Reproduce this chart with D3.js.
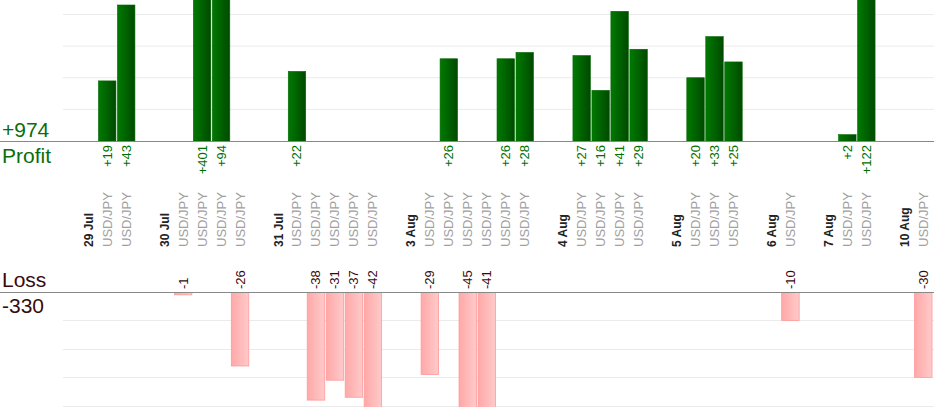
<!DOCTYPE html>
<html><head><meta charset="utf-8">
<script src="https://cdn.jsdelivr.net/npm/d3@7"></script>
<style>body{margin:0;background:#fff}svg{display:block;font-family:Arial,"Liberation Sans",sans-serif}</style>
</head><body><div id="chart"></div>
<script>
const width = 934, height = 420;

// one slot per column: a date header or a trade
const slots = ["29 Jul","t","t","","30 Jul","t","t","t","t","","31 Jul","t","t","t","t","t","","3 Aug","t","t","t","t","t","t","","4 Aug","t","t","t","t","","5 Aug","t","t","t","","6 Aug","t","","7 Aug","t","t","","10 Aug","t"];
// profit/loss of each trade, in slot order
const results = [19,43,-1,401,94,-26,22,-38,-31,-37,-42,-29,26,-45,-41,26,28,27,16,41,29,20,33,25,-10,2,122,-30];
const pair = "USD/JPY";
const totalProfit = "+974", totalLoss = "-330";

let k = 0;
const cols = slots.map((s, i) => s === "t" ? {i, trade: true, v: results[k++]} : {i, trade: false, label: s});
const trades = cols.filter(c => c.trade);

const x = d3.scaleBand().domain(d3.range(slots.length)).range([79.5, 932]).paddingInner(0.08);
const yP = d3.scaleLinear().domain([0, 43]).range([141, 5]);
const yL = d3.scaleLinear().domain([0, -42]).range([292, 411.5]);

const svg = d3.select("#chart").append("svg").attr("width", width).attr("height", height);
const defs = svg.append("defs");
const gG = defs.append("linearGradient").attr("id", "gg");
gG.append("stop").attr("offset", "0%").attr("stop-color", "#007a00");
gG.append("stop").attr("offset", "100%").attr("stop-color", "#004a00");
const gR = defs.append("linearGradient").attr("id", "gr");
gR.append("stop").attr("offset", "0%").attr("stop-color", "#ffa8a8");
gR.append("stop").attr("offset", "100%").attr("stop-color", "#ffcaca");
defs.append("clipPath").attr("id", "cp").append("rect").attr("x", 0).attr("y", 0).attr("width", width).attr("height", 141);
defs.append("clipPath").attr("id", "cl").append("rect").attr("x", 0).attr("y", 292).attr("width", width).attr("height", 115);

// grid
svg.append("g").selectAll("line").data([10, 20, 30, 40]).join("line")
  .attr("x1", 63).attr("x2", width).attr("y1", d => yP(d)).attr("y2", d => yP(d))
  .attr("stroke", "#ebebeb");
svg.append("g").selectAll("line").data([-10, -20, -30, -40]).join("line")
  .attr("x1", 63).attr("x2", width).attr("y1", d => Math.round(yL(d)) + 0.5).attr("y2", d => Math.round(yL(d)) + 0.5)
  .attr("stroke", "#ebebeb");

// bars
svg.append("g").attr("clip-path", "url(#cp)").selectAll("rect").data(trades.filter(d => d.v > 0)).join("rect")
  .attr("x", d => x(d.i)).attr("width", x.bandwidth())
  .attr("y", d => yP(d.v)).attr("height", d => yP(0) - yP(d.v))
  .attr("fill", "url(#gg)").attr("stroke", "#006400").attr("stroke-width", 0.6);
svg.append("g").attr("clip-path", "url(#cl)").selectAll("rect").data(trades.filter(d => d.v < 0)).join("rect")
  .attr("x", d => x(d.i)).attr("width", x.bandwidth())
  .attr("y", yL(0)).attr("height", d => Math.max(2, yL(d.v) - yL(0)))
  .attr("fill", "url(#gr)").attr("stroke", "#ff9a9a").attr("stroke-width", 0.8);

// zero lines
svg.append("line").attr("x1", 0).attr("x2", width).attr("y1", 141.5).attr("y2", 141.5).attr("stroke", "#888");
svg.append("line").attr("x1", 0).attr("x2", width).attr("y1", 292.5).attr("y2", 292.5).attr("stroke", "#888");

const cx = i => x(i) + x.bandwidth() / 2;
// value labels
svg.append("g").selectAll("text").data(trades.filter(d => d.v > 0)).join("text")
  .attr("transform", d => `translate(${cx(d.i) + 4.5},145) rotate(-90)`)
  .attr("text-anchor", "end").attr("font-size", 13).attr("fill", "#007000")
  .text(d => "+" + d.v);
svg.append("g").selectAll("text").data(trades.filter(d => d.v < 0)).join("text")
  .attr("transform", d => `translate(${cx(d.i) + 4.5},289) rotate(-90)`)
  .attr("text-anchor", "start").attr("font-size", 13).attr("fill", "#3a0a0a")
  .text(d => d.v);
// category labels
svg.append("g").selectAll("text").data(cols.filter(c => c.trade || c.label)).join("text")
  .attr("transform", d => `translate(${cx(d.i) + 4.5},247) rotate(-90)`)
  .attr("text-anchor", "start")
  .attr("font-size", d => d.trade ? 13 : 12)
  .attr("font-weight", d => d.trade ? null : "bold")
  .attr("fill", d => d.trade ? "#a0a0a0" : "#222")
  .text(d => d.trade ? pair : d.label);

// side labels
const side = [[totalProfit, 137, "#0a6e0a"], ["Profit", 163, "#0a6e0a"], ["Loss", 287, "#3a0a0a"], [totalLoss, 313, "#3a0a0a"]];
svg.append("g").selectAll("text").data(side).join("text")
  .attr("x", 2).attr("y", d => d[1]).attr("font-size", 21).attr("fill", d => d[2]).text(d => d[0]);
</script></body></html>
